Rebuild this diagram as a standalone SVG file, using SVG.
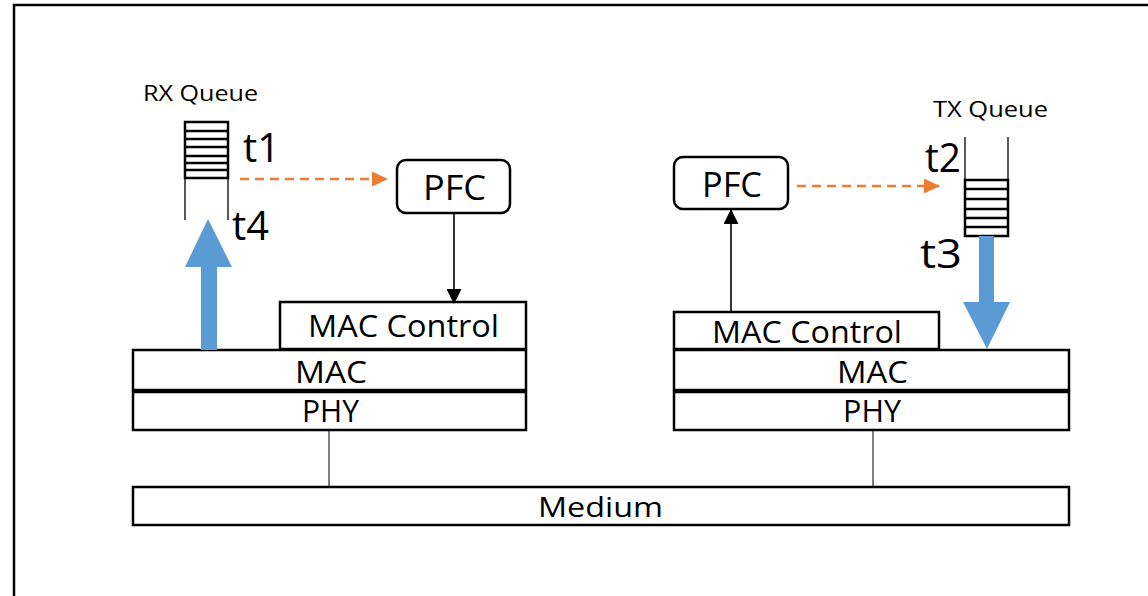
<svg xmlns="http://www.w3.org/2000/svg" width="1148" height="596" viewBox="0 0 1148 596">
<style>
.box{fill:#fff;stroke:#000;stroke-width:2.5}
.lbl{font-family:"Open Sans","Liberation Sans",sans-serif;fill:#000;text-anchor:start}
.q{fill:#fff;stroke:#000;stroke-width:2.5}
.wall{stroke:#000;stroke-width:1.3;fill:none}
.stripe{stroke:#000;stroke-width:2.6;fill:none}
.dash{stroke:#ED7D31;stroke-width:2.5;stroke-dasharray:9,6;fill:none}
.blk{stroke:#000;stroke-width:1.6;fill:none}
.thin{stroke:#000;stroke-width:1;fill:none}
.blue{fill:#5B9BD5}
</style>
<defs>
<marker id="ora" markerWidth="16" markerHeight="15" refX="15" refY="7.5" orient="auto" markerUnits="userSpaceOnUse" viewBox="0 0 16 15"><path d="M0,0 L16,7.5 L0,15 z" fill="#ED7D31"/></marker>
<marker id="blkh" markerWidth="15" markerHeight="15" refX="14" refY="7.5" orient="auto" markerUnits="userSpaceOnUse" viewBox="0 0 15 15"><path d="M0,0 L15,7.5 L0,15 z" fill="#000"/></marker>
</defs>
<rect width="1148" height="596" fill="#fff"/>
<path d="M14,596 V5 H1148" fill="none" stroke="#000" stroke-width="2.5"/>

<g id="medium">
<rect class="box" x="133" y="487" width="936" height="38"/>
<text class="lbl" x="538" y="517" font-size="28" textLength="125" lengthAdjust="spacingAndGlyphs">Medium</text>
</g>

<g id="left-mac-control">
<rect class="box" x="280" y="302" width="246" height="47"/>
<text class="lbl" x="308" y="337" font-size="31" textLength="191" lengthAdjust="spacingAndGlyphs">MAC Control</text>
</g>
<g id="left-mac">
<rect class="box" x="133" y="350" width="393" height="40"/>
<text class="lbl" x="295" y="383" font-size="31" textLength="72" lengthAdjust="spacingAndGlyphs">MAC</text>
</g>
<g id="left-phy">
<rect class="box" x="133" y="392" width="393" height="38"/>
<text class="lbl" x="302" y="422" font-size="31" textLength="57" lengthAdjust="spacingAndGlyphs">PHY</text>
</g>

<g id="right-mac-control">
<rect class="box" x="674" y="312" width="265" height="37"/>
<text class="lbl" x="712" y="343" font-size="31" textLength="190" lengthAdjust="spacingAndGlyphs">MAC Control</text>
</g>
<g id="right-mac">
<rect class="box" x="674" y="350" width="395" height="40"/>
<text class="lbl" x="837" y="383" font-size="31" textLength="71" lengthAdjust="spacingAndGlyphs">MAC</text>
</g>
<g id="right-phy">
<rect class="box" x="674" y="392" width="395" height="38"/>
<text class="lbl" x="843" y="422" font-size="31" textLength="58" lengthAdjust="spacingAndGlyphs">PHY</text>
</g>

<g id="left-pfc">
<rect class="box" x="397" y="160" width="113" height="53" rx="9" stroke-width="2"/>
<text class="lbl" x="423" y="200" font-size="34" textLength="63" lengthAdjust="spacingAndGlyphs">PFC</text>
</g>
<g id="right-pfc">
<rect class="box" x="674" y="157" width="114" height="52" rx="9" stroke-width="2"/>
<text class="lbl" x="702" y="197" font-size="34" textLength="60" lengthAdjust="spacingAndGlyphs">PFC</text>
</g>

<g id="rx-queue">
<text class="lbl" x="143" y="101" font-size="22" textLength="115" lengthAdjust="spacingAndGlyphs">RX Queue</text>
<path class="wall" d="M185,122 V220 M228,122 V220"/>
<rect class="q" x="185" y="122" width="43" height="56"/>
<path class="stripe" d="M185,131 H228 M185,139 H228 M185,147 H228 M185,156 H228 M185,163 H228 M185,170 H228"/>
<text class="lbl" x="243" y="162" font-size="40" textLength="37" lengthAdjust="spacingAndGlyphs">t1</text>
<text class="lbl" x="232" y="240" font-size="40" textLength="37" lengthAdjust="spacingAndGlyphs">t4</text>
</g>

<g id="tx-queue">
<text class="lbl" x="933" y="117" font-size="22" textLength="115" lengthAdjust="spacingAndGlyphs">TX Queue</text>
<path class="wall" d="M965,137 V236 M1008,137 V236"/>
<rect class="q" x="965" y="180" width="43" height="56"/>
<path class="stripe" d="M965,189 H1008 M965,199 H1008 M965,209 H1008 M965,218 H1008 M965,227 H1008"/>
<text class="lbl" x="925" y="172" font-size="40" textLength="36" lengthAdjust="spacingAndGlyphs">t2</text>
<text class="lbl" x="920" y="268" font-size="40" textLength="42" lengthAdjust="spacingAndGlyphs">t3</text>
</g>

<g id="connectors">
<path class="dash" d="M240,179 H387" marker-end="url(#ora)"/>
<path class="dash" d="M797,186 H939" marker-end="url(#ora)"/>
<path class="blk" d="M454,213 V303" marker-end="url(#blkh)"/>
<path class="blk" d="M731,312 V210" marker-end="url(#blkh)"/>
<path class="thin" d="M329,430 V487 M873,430 V487"/>
<path class="blue" d="M201,350 V267 H185 L208,219 L232,267 H217 V350 z"/>
<path class="blue" d="M979,236 V302 H963 L987,349 L1010,302 H994 V236 z"/>
</g>
</svg>
